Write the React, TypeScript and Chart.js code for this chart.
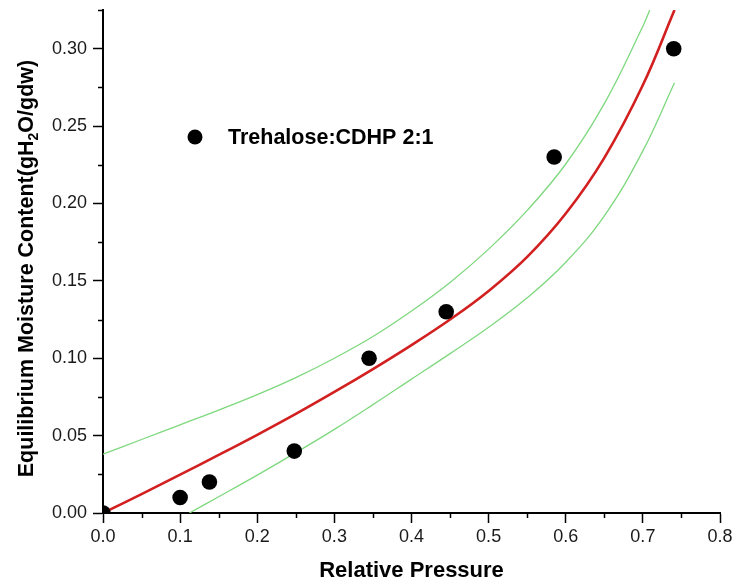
import React, { useEffect, useRef } from "react";
import { Chart, registerables } from "chart.js";

Chart.register(...registerables);

// Measured points
const pressure = [0, 0.1, 0.138, 0.248, 0.345, 0.445, 0.585, 0.74];
const moisture = [0, 0.01, 0.02, 0.04, 0.1, 0.13, 0.23, 0.3];

// Fitted curve (red)
const fitX = [0, 0.05, 0.1, 0.15, 0.2, 0.25, 0.3, 0.35, 0.4, 0.45, 0.5, 0.55, 0.6, 0.65, 0.7, 0.741];
const fitY = [0, 0.0122, 0.0248, 0.0375, 0.0505, 0.064, 0.0782, 0.093, 0.1085, 0.125, 0.1435, 0.1655, 0.1935, 0.2295, 0.2765, 0.325];

// Upper confidence band (green)
const upperX = [0, 0.05, 0.1, 0.15, 0.2, 0.25, 0.3, 0.35, 0.4, 0.45, 0.5, 0.55, 0.6, 0.65, 0.7, 0.709];
const upperY = [0.038, 0.0475, 0.057, 0.0665, 0.0765, 0.0875, 0.1, 0.114, 0.1305, 0.149, 0.1705, 0.1955, 0.2255, 0.2645, 0.3145, 0.325];

// Lower confidence band (green)
const lowerX = [0.112, 0.15, 0.2, 0.25, 0.3, 0.35, 0.4, 0.45, 0.5, 0.55, 0.6, 0.65, 0.7, 0.741];
const lowerY = [0, 0.0105, 0.0245, 0.039, 0.054, 0.07, 0.0865, 0.103, 0.12, 0.139, 0.162, 0.192, 0.234, 0.278];

const xMinorTicks = [0.05, 0.15, 0.25, 0.35, 0.45, 0.55, 0.65, 0.75];
const yMinorTicks = [0.025, 0.075, 0.125, 0.175, 0.225, 0.275, 0.325];

const seriesLabel = "Trehalose:CDHP 2:1";
const xTitle = "Relative Pressure";
const yTitleParts = ["Equilibrium Moisture Content(gH", "2", "O/gdw)"];

const FONT = "'Liberation Sans', Arial, Helvetica, sans-serif";

const zip = (xs: number[], ys: number[]) => xs.map((x, i) => ({ x, y: ys[i] }));

const extrasPlugin = {
  id: "extras",
  afterDraw(chart: any) {
    const ctx = chart.ctx as CanvasRenderingContext2D;
    const xs = chart.scales.x;
    const ys = chart.scales.y;
    const area = chart.chartArea;
    ctx.save();
    // minor ticks
    ctx.strokeStyle = "#000";
    ctx.lineWidth = 1.5;
    ctx.beginPath();
    xMinorTicks.forEach((v) => {
      const px = Math.round(xs.getPixelForValue(v)) + 0.5;
      ctx.moveTo(px, area.bottom);
      ctx.lineTo(px, area.bottom + 5);
    });
    yMinorTicks.forEach((v) => {
      const py = Math.round(ys.getPixelForValue(v)) + 0.5;
      ctx.moveTo(area.left, py);
      ctx.lineTo(area.left - 5, py);
    });
    ctx.stroke();

    // legend
    const lx = area.left + 92;
    const ly = area.top + 127;
    ctx.fillStyle = "#000";
    ctx.beginPath();
    ctx.arc(lx, ly, 7.5, 0, Math.PI * 2);
    ctx.fill();
    ctx.font = `bold 21.5px ${FONT}`;
    ctx.textBaseline = "middle";
    ctx.textAlign = "left";
    ctx.fillText(seriesLabel, lx + 33, ly + 1);

    // y title with subscript
    const bigFont = `bold 21.5px ${FONT}`;
    const smallFont = `bold 14px ${FONT}`;
    ctx.font = bigFont;
    const w0 = ctx.measureText(yTitleParts[0]).width;
    const w2 = ctx.measureText(yTitleParts[2]).width;
    ctx.font = smallFont;
    const w1 = ctx.measureText(yTitleParts[1]).width;
    const total = w0 + w1 + w2;
    const cy = (area.top + area.bottom) / 2 + 7;
    ctx.translate(33, cy);
    ctx.rotate(-Math.PI / 2);
    ctx.textBaseline = "alphabetic";
    let x = -total / 2;
    ctx.font = bigFont;
    ctx.fillText(yTitleParts[0], x, 0);
    x += w0;
    ctx.font = smallFont;
    ctx.fillText(yTitleParts[1], x, 5);
    x += w1;
    ctx.font = bigFont;
    ctx.fillText(yTitleParts[2], x, 0);
    ctx.restore();
  },
};

export default function App() {
  const canvasRef = useRef<HTMLCanvasElement | null>(null);

  useEffect(() => {
    if (!canvasRef.current) return;
    const lineCommon = {
      type: "scatter" as const,
      showLine: true,
      pointRadius: 0,
      pointHoverRadius: 0,
      tension: 0.4,
      clip: 0,
    };
    const chart = new Chart(canvasRef.current, {
      type: "scatter",
      data: {
        datasets: [
          {
            label: seriesLabel,
            data: zip(pressure, moisture),
            backgroundColor: "#000",
            borderColor: "#000",
            pointRadius: 7.8,
            pointBorderWidth: 0,
            clip: 0,
          } as any,
          {
            ...lineCommon,
            label: "fit",
            data: zip(fitX, fitY),
            borderColor: "#d21f1f",
            borderWidth: 2.6,
          },
          {
            ...lineCommon,
            label: "upper",
            data: zip(upperX, upperY),
            borderColor: "#7ed87e",
            borderWidth: 1.3,
          },
          {
            ...lineCommon,
            label: "lower",
            data: zip(lowerX, lowerY),
            borderColor: "#7ed87e",
            borderWidth: 1.3,
          },
        ],
      },
      options: {
        animation: false,
        responsive: true,
        maintainAspectRatio: false,
        layout: { padding: { left: 0, top: 10, right: 13, bottom: 0 } },
        plugins: {
          legend: { display: false },
          tooltip: { enabled: false },
        },
        scales: {
          x: {
            type: "linear",
            min: 0,
            max: 0.8,
            afterFit: (s: any) => {
              s.height = 73;
              s.paddingLeft = 0;
              s.paddingRight = 0;
            },
            grid: {
              display: true,
              drawOnChartArea: false,
              drawTicks: true,
              tickLength: 10,
              tickWidth: 1.5,
              tickColor: "#000",
            },
            border: { display: true, color: "#000", width: 2 },
            ticks: {
              stepSize: 0.1,
              includeBounds: false,
              padding: 3,
              color: "#1a1a1a",
              font: { family: FONT, size: 18 },
              maxRotation: 0,
              callback: (v: any) => Number(v).toFixed(1),
            },
            title: {
              display: true,
              text: xTitle,
              color: "#000",
              font: { family: FONT, size: 22, weight: "bold" },
              padding: { top: 0, bottom: 2 },
            },
          },
          y: {
            type: "linear",
            min: 0,
            max: 0.325,
            afterFit: (s: any) => {
              s.width = 103;
              s.paddingTop = 0;
              s.paddingBottom = 0;
            },
            grid: {
              display: true,
              drawOnChartArea: false,
              drawTicks: true,
              tickLength: 10,
              tickWidth: 1.5,
              tickColor: "#000",
            },
            border: { display: true, color: "#000", width: 2 },
            ticks: {
              stepSize: 0.05,
              includeBounds: false,
              padding: 6,
              color: "#1a1a1a",
              font: { family: FONT, size: 18 },
              callback: (v: any) => Number(v).toFixed(2),
            },
            title: { display: false },
          },
        },
      },
      plugins: [extrasPlugin],
    });
    return () => chart.destroy();
  }, []);

  return (
    <div style={{ position: "fixed", left: 0, top: 0, width: 733, height: 586, background: "#fff" }}>
      <canvas ref={canvasRef} />
    </div>
  );
}
